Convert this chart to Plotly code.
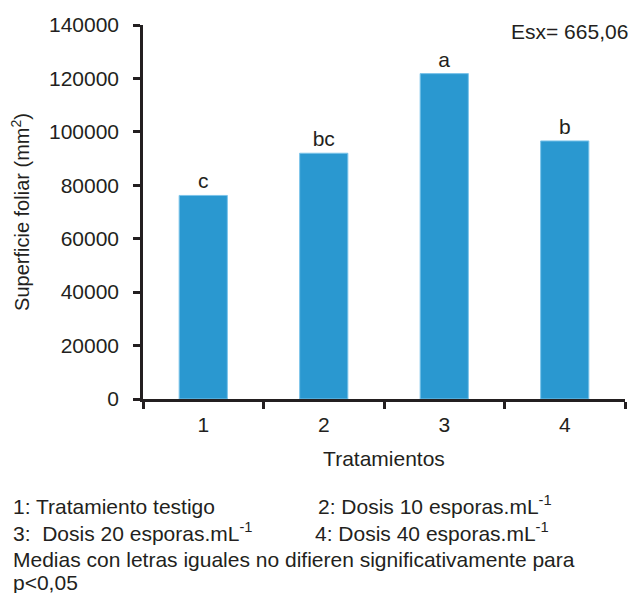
import plotly.graph_objects as go

categories = ["1", "2", "3", "4"]
superficie = [76200, 92000, 121800, 96600]
letras = ["c", "bc", "a", "b"]
y_ticks = [0, 20000, 40000, 60000, 80000, 100000, 120000, 140000]

FONT = "Liberation Sans, Arial, sans-serif"
TXT = "#231f20"

fig = go.Figure()
fig.add_trace(go.Bar(
    x=categories, y=superficie,
    text=letras, textposition="outside",
    textfont=dict(family=FONT, size=21, color=TXT),
    marker=dict(color="#2a98d0", line=dict(color="#7cc4ea", width=1)),
    cliponaxis=False,
))

fig.update_layout(
    width=631, height=593,
    margin=dict(l=143, r=6, t=25, b=194),
    paper_bgcolor="white", plot_bgcolor="white",
    bargap=0.6,
    showlegend=False,
    font=dict(family=FONT, size=21, color=TXT),
)
fig.update_xaxes(
    type="category", automargin=False,
    showline=True, linecolor="#231f20", linewidth=2.5,
    ticks="outside", tickson="boundaries", ticklen=7, tickwidth=2.5, tickcolor="#231f20",
    tickfont=dict(size=21, color=TXT),
    ticklabelstandoff=5,
    title=dict(text="Tratamientos", font=dict(size=21, color=TXT), standoff=17),
    showgrid=False, zeroline=False,
)
fig.update_yaxes(
    range=[0, 140000], tickvals=y_ticks, tickformat="d", automargin=False,
    showline=True, linecolor="#231f20", linewidth=2.5,
    ticks="outside", ticklen=7, tickwidth=2.5, tickcolor="#231f20",
    tickfont=dict(size=21, color=TXT),
    ticklabelstandoff=10,
    title=dict(text="Superficie foliar (mm<sup>2</sup>)", font=dict(size=20, color=TXT), standoff=14),
    showgrid=False, zeroline=False,
)

PH = 374.0
def py(ypx):
    return (399 - ypx) / PH
def px(xpx):
    return (xpx - 143) / 482.0

fig.add_annotation(text="Esx= 665,06", xref="paper", yref="paper",
                   x=px(630), y=py(32), xanchor="right", yanchor="middle",
                   showarrow=False, font=dict(size=21, color=TXT))

# (text, left x px, baseline y px)
foot = [
    ("1: Tratamiento testigo", 11, 514),
    ("2: Dosis 10 esporas.mL<sup>-1</sup>", 316, 514),
    ("3:  Dosis 20 esporas.mL<sup>-1</sup>", 11, 541),
    ("4: Dosis 40 esporas.mL<sup>-1</sup>", 313, 541),
    ("Medias con letras iguales no difieren significativamente para", 11, 567),
    ("p<0,05", 11, 590),
]
for t, xx, yy in foot:
    fig.add_annotation(text=t, xref="paper", yref="paper", x=px(xx), y=py(yy + 6),
                       xanchor="left", yanchor="bottom", showarrow=False,
                       font=dict(size=21, color=TXT))

fig.write_html(
    "out.html",
    config={"displayModeBar": False},
    post_script="document.body.style.margin='0';document.body.style.overflow='hidden';",
)
